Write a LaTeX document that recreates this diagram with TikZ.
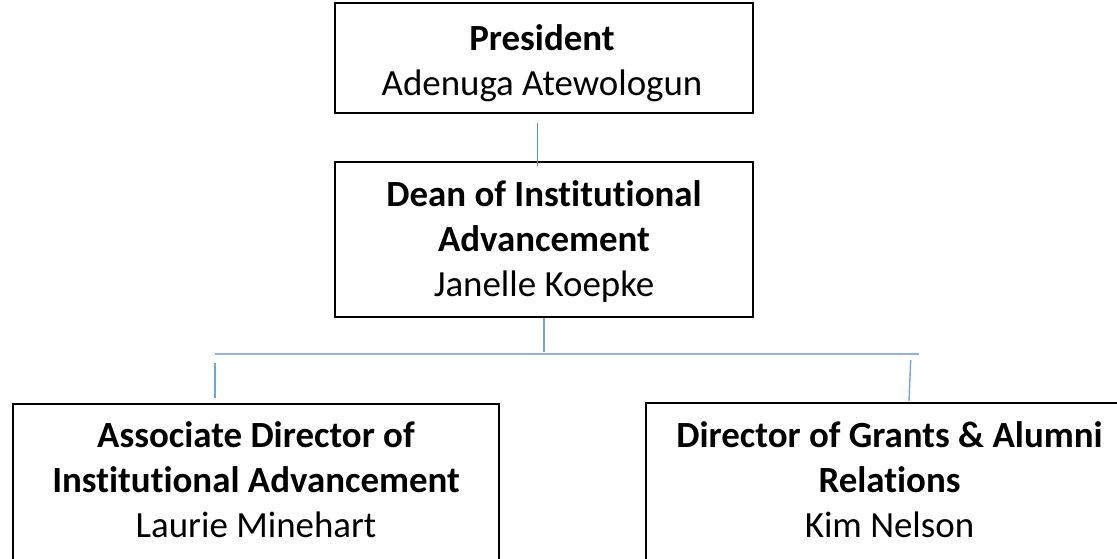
\documentclass[tikz,border=0pt]{standalone}
\usepackage{fontspec}
\setmainfont{Carlito}[Ligatures=NoCommon]
\definecolor{conn}{HTML}{8DB4E2}
\definecolor{connd}{HTML}{6FA6DB}
\definecolor{connt}{HTML}{4F92D8}
\tikzset{
  orgbox/.style={draw=black, line width=1.8pt, fill=none, inner sep=0pt, rectangle},
  orgtxt/.style={align=center, inner sep=0pt, font=\fontsize{36.9pt}{45pt}\selectfont},
  bus/.style={draw=conn, line width=2pt},
  drop/.style={draw=connd, line width=1.4pt},
}
\begin{document}
\begin{tikzpicture}[x=1pt, y=-1pt]
\useasboundingbox (0,0) rectangle (1117,558);
\clip (0,0) rectangle (1117,558);
% boxes
\node[orgbox, minimum width=418pt, minimum height=110pt] (pres) at (544,58) {};
\node[orgbox, minimum width=418pt, minimum height=155pt] (dean) at (544,239.5) {};
\node[orgbox, minimum width=486pt, minimum height=176pt] (assoc) at (256,492) {};
\node[orgbox, minimum width=489pt, minimum height=176pt] (dir) at (890.5,491) {};
% texts (base anchor = baseline of the last line)
\node[orgtxt, anchor=base] (presT) at (542,95) {\textbf{President}\\Adenuga Atewologun};
\node[orgtxt, anchor=base] (deanT) at (544,296) {\textbf{Dean of Institutional}\\\textbf{Advancement}\\Janelle Koepke};
\node[orgtxt, anchor=base] (assocT) at (256,537) {\textbf{Associate Director of}\\\textbf{Institutional Advancement}\\Laurie Minehart};
\node[orgtxt, anchor=base] (dirT) at (889.5,537) {\textbf{Director of Grants \& Alumni}\\\textbf{Relations}\\Kim Nelson};
% connector coordinates
\coordinate (busL) at (215,354);
\coordinate (busR) at (919,354);
\coordinate (busM) at (544,352);
\coordinate (dropLtop) at (215,363);
\coordinate (dropLbot) at (215,398);
\coordinate (dropRtop) at (910.7,360);
\coordinate (dropRbot) at (909,401);
% connectors
\draw[drop, draw=connt, line width=1pt] ([xshift=-7pt,yshift=-9pt]pres.south) -- ([xshift=-7pt,yshift=-5pt]dean.north);
\draw[drop] (dean.south) -- (busM);
\draw[bus] (busL) -- (busR);
\draw[drop] (dropLtop) -- (dropLbot);
\draw[drop] (dropRtop) -- (dropRbot);
\end{tikzpicture}
\end{document}
